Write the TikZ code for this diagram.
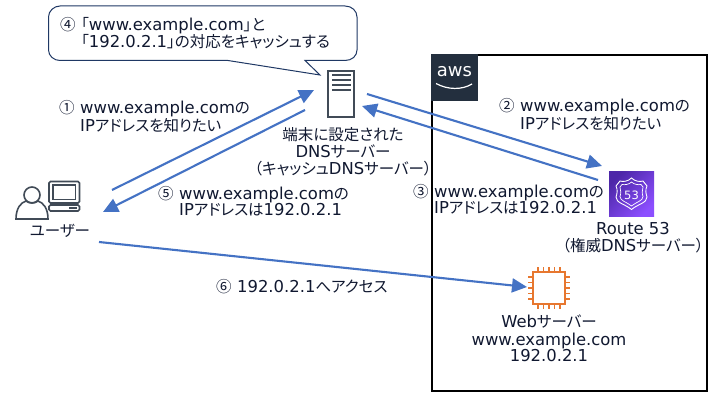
\documentclass[tikz,border=0pt]{standalone}
\usepackage{fontspec}
\setmainfont[RawFeature=+palt]{Noto Sans CJK JP}
\newfontfamily\latfont{DejaVu Sans}
\newcommand{\lat}[1]{{\latfont\fontsize{16.4}{16}\selectfont #1}}
\newcommand{\num}[1]{\makebox[21pt][l]{#1}}
\usetikzlibrary{arrows.meta,shadings}
\definecolor{arrowblue}{HTML}{4472C4}
\definecolor{calloutnavy}{HTML}{1F3864}
\definecolor{icongrey}{HTML}{414B57}
\definecolor{awsnavy}{HTML}{232F3E}
\definecolor{ec2orange}{HTML}{E7772F}
\definecolor{rtop}{HTML}{8C4FFF}
\definecolor{rbot}{HTML}{4D27A8}
\definecolor{inkblue}{HTML}{101830}
\tikzset{
 x=1pt,y=-1pt,
 lbl/.style={inner sep=0pt,font=\fontsize{15.5}{15.5}\selectfont,align=left,anchor=north west,text=inkblue},
 ctr/.style={inner sep=0pt,font=\fontsize{15.5}{17}\selectfont,align=center,text=inkblue},
 flow/.style={draw=arrowblue,line width=2.1pt,-{Triangle[length=15pt,width=14pt]}},
 icon/.style={draw=icongrey,line width=1.6pt},
}
\begin{document}
\begin{tikzpicture}
\useasboundingbox (0,0) rectangle (717,401);
\fill[white] (0,0) rectangle (717,401);
% AWS cloud
\node[draw=black,line width=2pt,minimum width=275pt,minimum height=336pt,inner sep=0pt,anchor=north west] (cloud) at (431,54) {};
\node[fill=awsnavy,minimum size=47pt,inner sep=0pt,anchor=north west] (awslogo) at (431,54) {};
\node[inner sep=0pt,text=white,font=\latfont\fontsize{18}{18}\selectfont] (awstext) at (454.5,72) {aws};
\draw[white,line width=1.2pt] (436,83.5) .. controls (448,90) and (462,90) .. (472,84);
% callout
\draw[calloutnavy,line width=1pt,fill=white]
 (60,6) -- (345,6) .. controls (352,6) and (357,11) .. (357,17) -- (357,50)
 .. controls (357,56) and (352,60.5) .. (345,60.5) -- (305,60.5) -- (320,75) -- (228,60.5) -- (60,60.5)
 .. controls (54,60.5) and (48.5,56) .. (48.5,50) -- (48.5,17) .. controls (48.5,11) and (54,6) .. (60,6) -- cycle;
\node[lbl,font=\fontsize{15.5}{17.5}\selectfont] (t4) at (60,17) {\num{④}「\lat{www.example.com}」と\\\hspace*{21pt}「\lat{192.0.2.1}」の対応をキャッシュする};
% DNS server icon
\node[icon,line width=2pt,fill=white,minimum width=26pt,minimum height=46pt,inner sep=0pt] (dns) at (341,94) {};
\foreach \y in {75,80,85,90}{\draw[icongrey,line width=1.5pt] (332,\y) -- (351,\y);}
\node[ctr,anchor=north] (dnslabel) at (343,127) {端末に設定された\\\lat{DNS}サーバー\\（キャッシュ\lat{DNS}サーバー）};
% user icon
\node[inner sep=0pt,minimum size=1pt] (user) at (48,205) {};
\draw[icon] (32,195) circle[radius=8pt];
\draw[icon] (16,219) .. controls (16,208) and (21,202.5) .. (26,201) .. controls (29,203.5) and (35,203.5) .. (38,201) .. controls (43,202.5) and (48,208) .. (48,219) -- cycle;
\draw[icon,rounded corners=1.5pt] (49,181.5) rectangle (79.5,203);
\draw[icongrey,line width=1.4pt] (53,185) rectangle (75.5,199.5);
\draw[icon,rounded corners=1.5pt] (49,205) rectangle (79.5,211);
\draw[icongrey,line width=1.8pt] (69,208) -- (76.5,208);
\node[ctr] (userlabel) at (60,231) {ユーザー};
% Route 53 icon
\node[minimum size=45pt,inner sep=0pt,anchor=north west,shading=axis,left color=rbot,right color=rtop,shading angle=45] (r53) at (609,171) {};
\draw[white,line width=0.9pt] (631.5,178) .. controls (635,181.5) and (640,182) .. (643,181) -- (647,186)
 .. controls (645,190) and (646,194) .. (647,197) .. controls (647,203) and (638,204) .. (631.5,209.5)
 .. controls (625,204) and (616,203) .. (616,197) .. controls (617,194) and (618,190) .. (616,186) -- (620,181) .. controls (623,182) and (628,181.5) .. (631.5,178) -- cycle;
\draw[white,line width=0.7pt] (631.5,182) .. controls (634,184.5) and (638,185) .. (641,184.5) -- (643,187)
 .. controls (642,190) and (642,194) .. (643,196.5) .. controls (643,201) and (636,202) .. (631.5,206)
 .. controls (627,202) and (620,201) .. (620,196.5) .. controls (621,194) and (621,190) .. (620,187) -- (622,184.5) .. controls (625,185) and (629,184.5) .. (631.5,182) -- cycle;
\node[inner sep=0pt,text=white,font=\latfont\fontsize{11.5}{11.5}\selectfont] (r53num) at (631.5,195) {53};
\node[ctr,anchor=north] (r53label) at (633,222.5) {\lat{Route 53}\\（権威\lat{DNS}サーバー）};
% EC2 icon
\node[draw=ec2orange,line width=2pt,fill=white,minimum size=32pt,inner sep=0pt] (ec2) at (549,288) {};
\foreach \d in {-11,-5.5,0,5.5,11}{
 \draw[ec2orange,line width=1.3pt] (549+\d,272) -- (549+\d,267);
 \draw[ec2orange,line width=1.3pt] (549+\d,304) -- (549+\d,309);
 \draw[ec2orange,line width=1.3pt] (533,288+\d) -- (528,288+\d);
 \draw[ec2orange,line width=1.3pt] (565,288+\d) -- (570,288+\d);
}
\node[ctr,anchor=north,font=\fontsize{15.5}{16}\selectfont] (weblabel) at (549,315) {\lat{Web}サーバー\\[2pt]\lat{www.example.com}\\\lat{192.0.2.1}};
% labels
\node[lbl] (t1) at (59,100.5) {\num{①}\lat{www.example.com}の\\\hspace*{21pt}\lat{IP}アドレスを知りたい};
\node[lbl,font=\fontsize{15.5}{16}\selectfont] (t2) at (499,98.5) {\num{②}\lat{www.example.com}の\\\hspace*{21pt}\lat{IP}アドレスを知りたい};
\node[lbl] (t3) at (413,184) {\num{③}\lat{www.example.com}の\\\hspace*{21pt}\lat{IP}アドレスは\lat{192.0.2.1}};
\node[lbl] (t5) at (158,186) {\num{⑤}\lat{www.example.com}の\\\hspace*{21pt}\lat{IP}アドレスは\lat{192.0.2.1}};
\node[lbl] (t6) at (216,279) {\num{⑥}\lat{192.0.2.1}へアクセス};
% connector ends
\coordinate (a1s) at (112,190); \coordinate (a1e) at (314,90);
\coordinate (a5s) at (305,110); \coordinate (a5e) at (103,212);
\coordinate (a2s) at (367,94); \coordinate (a2e) at (602,166);
\coordinate (a3s) at (598,180); \coordinate (a3e) at (362,106);
\coordinate (a6s) at (99,242); \coordinate (a6e) at (527,287);
\draw[flow] (a1s) -- (a1e);
\draw[flow] (a5s) -- (a5e);
\draw[flow] (a2s) -- (a2e);
\draw[flow] (a3s) -- (a3e);
\draw[flow] (a6s) -- (a6e);
\end{tikzpicture}
\end{document}
